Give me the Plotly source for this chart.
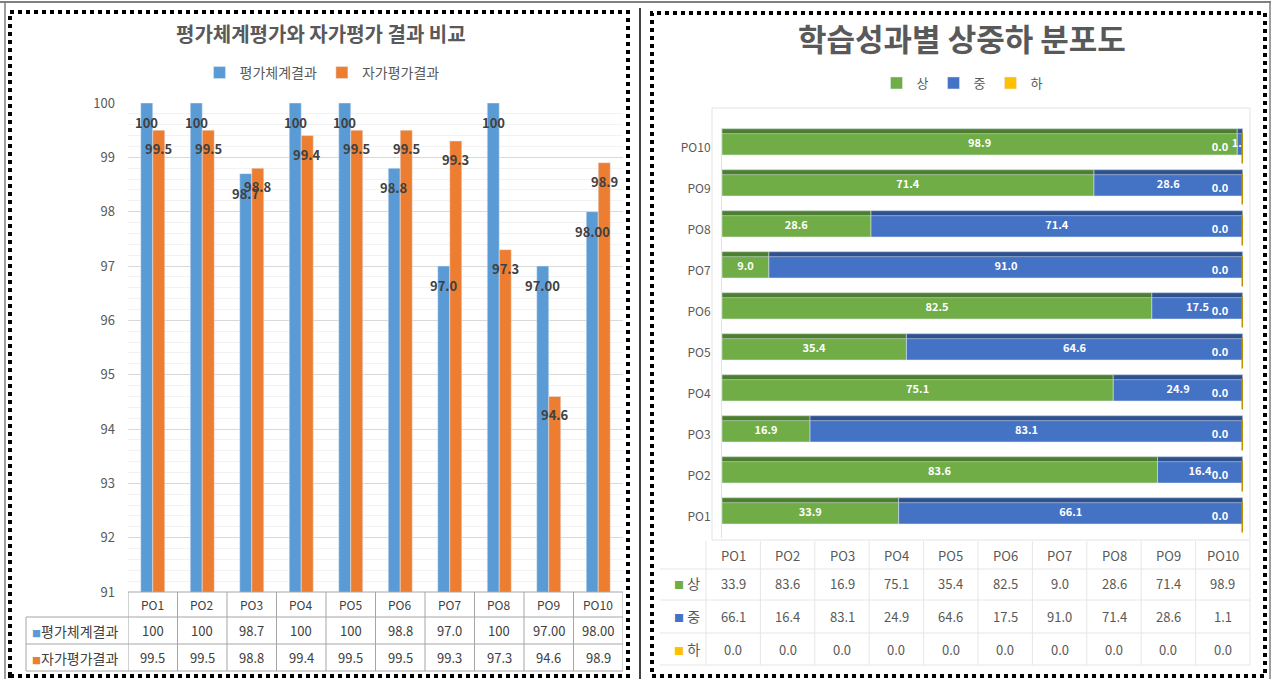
import plotly.graph_objects as go

W, H = 1271, 679


def fx(p):
    return p / W


def fy(p):
    return 1 - p / H


# ---------------- data ----------------
categories = ['PO1', 'PO2', 'PO3', 'PO4', 'PO5', 'PO6', 'PO7', 'PO8', 'PO9', 'PO10']

eval_values = [100, 100, 98.7, 100, 100, 98.8, 97.0, 100, 97.00, 98.00]
eval_labels = ['100', '100', '98.7', '100', '100', '98.8', '97.0', '100', '97.00', '98.00']
self_values = [99.5, 99.5, 98.8, 99.4, 99.5, 99.5, 99.3, 97.3, 94.6, 98.9]
self_labels = ['99.5', '99.5', '98.8', '99.4', '99.5', '99.5', '99.3', '97.3', '94.6', '98.9']

high = [33.9, 83.6, 16.9, 75.1, 35.4, 82.5, 9.0, 28.6, 71.4, 98.9]
mid = [66.1, 16.4, 83.1, 24.9, 64.6, 17.5, 91.0, 71.4, 28.6, 1.1]
low = [0.0, 0.0, 0.0, 0.0, 0.0, 0.0, 0.0, 0.0, 0.0, 0.0]

left_y_ticks = [91, 92, 93, 94, 95, 96, 97, 98, 99, 100]

FONT = 'Noto Sans CJK KR'
GRAY = '#595959'
DARK = '#404040'
C_BLUE = '#5B9BD5'
C_ORANGE = '#ED7D31'
C_GREEN = '#70AD47'
C_MID = '#4472C4'
C_LOW = '#FFC000'
D_GREEN = '#4E7F30'
D_MID = '#2F528F'
D_LOW = '#BF9000'

fig = go.Figure()

# ---------------- left chart ----------------
fig.add_trace(go.Bar(
    x=categories, y=eval_values, name='평가체계결과', marker_color=C_BLUE,
    xaxis='x', yaxis='y', legend='legend'))
fig.add_trace(go.Bar(
    x=categories, y=self_values, name='자가평가결과', marker_color=C_ORANGE,
    xaxis='x', yaxis='y', legend='legend'))

# ---------------- right chart (stacked via base) ----------------
base_mid = list(high)
base_low = [h + m for h, m in zip(high, mid)]
bar_w = 0.64
bar_off = -0.17
strip_w = 0.12
strip_off = bar_off + bar_w - strip_w
for vals, base, name, col in [(high, None, '상', C_GREEN), (mid, base_mid, '중', C_MID),
                              (low, base_low, '하', C_LOW)]:
    fig.add_trace(go.Bar(
        y=categories, x=vals, base=base, name=name, orientation='h', marker_color=col,
        width=bar_w, offset=bar_off,
        texttemplate='%{x:.1f}', textposition='inside', insidetextanchor='middle',
        constraintext='none', textangle=0,
        insidetextfont=dict(family=FONT, size=11, color='white', weight='bold'),
        xaxis='x2', yaxis='y2', legend='legend2'))
for vals, base, col in [(high, None, D_GREEN), (mid, base_mid, D_MID), (low, base_low, D_LOW)]:
    fig.add_trace(go.Bar(
        y=categories, x=vals, base=base, orientation='h', marker_color=col,
        width=strip_w, offset=strip_off, showlegend=False, hoverinfo='skip', textposition='none',
        xaxis='x2', yaxis='y2'))

totals = [h + m + l for h, m, l in zip(high, mid, low)]
fig.add_trace(go.Scatter(
    y=categories, x=totals, mode='text+markers',
    text=['%.1f' % v for v in low], textposition='middle left',
    textfont=dict(family=FONT, size=11, color='white', weight='bold'),
    marker=dict(symbol='line-ns', size=22, line=dict(color=D_LOW, width=3)),
    showlegend=False, hoverinfo='skip', cliponaxis=True,
    xaxis='x2', yaxis='y2'))

# ---------------- layout ----------------
shapes = []
annotations = []

# bar value labels (left chart), drawn above all bars
for i, c in enumerate(categories):
    annotations.append(dict(x=c, y=eval_values[i], xref='x', yref='y', text='<b>%s</b>' % eval_labels[i],
                            showarrow=False, xanchor='center', yanchor='top', xshift=-6, yshift=-8,
                            font=dict(family=FONT, size=13, color=DARK)))
    annotations.append(dict(x=c, y=self_values[i], xref='x', yref='y', text='<b>%s</b>' % self_labels[i],
                            showarrow=False, xanchor='center', yanchor='top', xshift=6, yshift=-7,
                            font=dict(family=FONT, size=13, color=DARK)))

# outer frame lines
shapes.append(dict(type='line', xref='paper', yref='paper', x0=0, x1=1, y0=fy(2), y1=fy(2),
                   line=dict(color='#7f7f7f', width=2)))
shapes.append(dict(type='line', xref='paper', yref='paper', x0=fx(5), x1=fx(5), y0=fy(2), y1=0,
                   line=dict(color='#7f7f7f', width=1.5)))
shapes.append(dict(type='line', xref='paper', yref='paper', x0=fx(640), x1=fx(640), y0=fy(8), y1=0,
                   line=dict(color='#000000', width=1.5)))
shapes.append(dict(type='line', xref='paper', yref='paper', x0=fx(1270), x1=fx(1270), y0=fy(2), y1=0,
                   line=dict(color='#7f7f7f', width=1.5)))
# dotted borders
shapes.append(dict(type='rect', xref='paper', yref='paper', x0=fx(10), x1=fx(628), y0=fy(676), y1=fy(12),
                   line=dict(color='black', width=4, dash='dot')))
shapes.append(dict(type='rect', xref='paper', yref='paper', x0=fx(652), x1=fx(1265), y0=fy(676), y1=fy(13),
                   line=dict(color='black', width=4, dash='dot')))

# left data table
TL = '#a6a6a6'
row_lines = [592, 617, 644, 671]
shapes.append(dict(type='line', xref='x', yref='paper', x0=-0.5, x1=9.5, y0=fy(592), y1=fy(592),
                   line=dict(color=TL, width=1)))
for r in row_lines[1:]:
    shapes.append(dict(type='line', xref='paper', yref='paper', x0=fx(26), x1=fx(623), y0=fy(r), y1=fy(r),
                       line=dict(color=TL, width=1)))
for i in range(len(categories) + 1):
    shapes.append(dict(type='line', xref='x', yref='paper', x0=i - 0.5, x1=i - 0.5, y0=fy(592), y1=fy(671),
                       line=dict(color=TL, width=1)))
shapes.append(dict(type='line', xref='paper', yref='paper', x0=fx(26), x1=fx(26), y0=fy(617), y1=fy(671),
                   line=dict(color=TL, width=1)))

for i, c in enumerate(categories):
    annotations.append(dict(x=c, y=fy(604), xref='x', yref='paper', text=c, showarrow=False,
                            xanchor='center', yanchor='middle',
                            font=dict(family=FONT, size=12, color=DARK)))
    annotations.append(dict(x=c, y=fy(630.5), xref='x', yref='paper', text=eval_labels[i], showarrow=False,
                            xanchor='center', yanchor='middle',
                            font=dict(family=FONT, size=13, color=DARK)))
    annotations.append(dict(x=c, y=fy(657.5), xref='x', yref='paper', text=self_labels[i], showarrow=False,
                            xanchor='center', yanchor='middle',
                            font=dict(family=FONT, size=13, color=DARK)))
annotations.append(dict(x=fx(30), y=fy(630.5), xref='paper', yref='paper', xanchor='left', yanchor='middle',
                        text='<span style="color:%s;font-size:9px">■</span>평가체계결과' % C_BLUE,
                        showarrow=False, font=dict(family=FONT, size=14, color=DARK)))
annotations.append(dict(x=fx(30), y=fy(657.5), xref='paper', yref='paper', xanchor='left', yanchor='middle',
                        text='<span style="color:%s;font-size:9px">■</span>자가평가결과' % C_ORANGE,
                        showarrow=False, font=dict(family=FONT, size=14, color=DARK)))

# titles
annotations.append(dict(x=fx(321), y=fy(33), xref='paper', yref='paper', xanchor='center', yanchor='middle',
                        text='<b>평가체계평가와 자가평가 결과 비교</b>',
                        showarrow=False, font=dict(family=FONT, size=20, color=GRAY)))
annotations.append(dict(x=fx(962), y=fy(37), xref='paper', yref='paper', xanchor='center', yanchor='middle',
                        text='<b>학습성과별 상중하 분포도</b>',
                        showarrow=False, font=dict(family=FONT, size=31, color=GRAY)))

# right plot frame
shapes.append(dict(type='rect', xref='paper', yref='paper', x0=fx(712), x1=fx(1250), y0=fy(540), y1=fy(108),
                   line=dict(color='#e3e3e3', width=1), layer='below'))

# right data table
RL = '#e6e6e6'
r_left, r_right = 660, 1250
col0 = 706
colw = (r_right - col0) / len(categories)
for r in [569, 600, 633, 665]:
    shapes.append(dict(type='line', xref='paper', yref='paper', x0=fx(r_left), x1=fx(r_right), y0=fy(r), y1=fy(r),
                       line=dict(color=RL, width=1)))
for i in range(len(categories) + 1):
    xx = col0 + i * colw
    shapes.append(dict(type='line', xref='paper', yref='paper', x0=fx(xx), x1=fx(xx), y0=fy(541), y1=fy(665),
                       line=dict(color=RL, width=1)))
row_y = [583, 616, 649]
for i, c in enumerate(categories):
    cx = fx(col0 + (i + 0.5) * colw)
    annotations.append(dict(x=cx, y=fy(555), xref='paper', yref='paper', text=c, showarrow=False,
                            xanchor='center', yanchor='middle',
                            font=dict(family=FONT, size=13, color=GRAY)))
    for vals, yy in zip([high, mid, low], row_y):
        annotations.append(dict(x=cx, y=fy(yy), xref='paper', yref='paper', text='%.1f' % vals[i],
                                xanchor='center', yanchor='middle',
                                showarrow=False, font=dict(family=FONT, size=13, color=GRAY)))
for name, col, yy in zip(['상', '중', '하'], [C_GREEN, C_MID, C_LOW], row_y):
    annotations.append(dict(x=fx(672), y=fy(yy), xref='paper', yref='paper', xanchor='left', yanchor='middle',
                            text='<span style="color:%s;font-size:10px">■</span> %s' % (col, name),
                            showarrow=False, font=dict(family=FONT, size=14, color=GRAY)))

fig.update_layout(
    width=W, height=H, autosize=False,
    margin=dict(l=0, r=0, t=0, b=0, autoexpand=False),
    paper_bgcolor='white', plot_bgcolor='white',
    font=dict(family=FONT, color=GRAY),
    barmode='group', bargap=0.515, bargroupgap=0,
    showlegend=True,
    legend=dict(orientation='h', x=fx(322), xanchor='center', y=fy(73), yanchor='middle',
                font=dict(family=FONT, size=14, color=GRAY), itemwidth=30, bgcolor='rgba(0,0,0,0)'),
    legend2=dict(orientation='h', x=fx(962), xanchor='center', y=fy(83), yanchor='middle',
                 font=dict(family=FONT, size=13, color=GRAY), itemwidth=30, bgcolor='rgba(0,0,0,0)'),
    xaxis=dict(domain=[fx(128), fx(623)], anchor='y', type='category', categoryarray=categories,
               range=[-0.5, 9.5], showticklabels=False, ticks='', showgrid=False, zeroline=False,
               automargin=False),
    yaxis=dict(domain=[fy(592), fy(103)], anchor='x', range=[91, 100], tickvals=left_y_ticks,
               ticktext=[str(v) for v in left_y_ticks], tickfont=dict(family=FONT, size=13, color=GRAY),
               showgrid=True, gridcolor='#d9d9d9', gridwidth=1, zeroline=False, showline=False,
               ticks='', ticklabelstandoff=12, automargin=False,
               minor=dict(dtick=0.2, showgrid=True, gridcolor='#f2f2f2', gridwidth=1)),
    xaxis2=dict(domain=[fx(722), fx(1243)], anchor='y2', range=[0, 100], showticklabels=False,
                showgrid=False, zeroline=False, ticks='', automargin=False),
    yaxis2=dict(domain=[fy(537.5), fy(127.5)], anchor='x2', type='category', categoryarray=categories,
                range=[-0.5, 9.5], tickfont=dict(family=FONT, size=12, color=GRAY), ticks='',
                showgrid=False, zeroline=False, showline=True, linecolor='#e3e3e3', ticklabelstandoff=8,
                automargin=False),
    shapes=shapes,
    annotations=annotations,
)

fig.write_html('out.html', config={'displayModeBar': False},
               post_script="document.body.style.margin='0px'; document.body.style.overflow='hidden';")
